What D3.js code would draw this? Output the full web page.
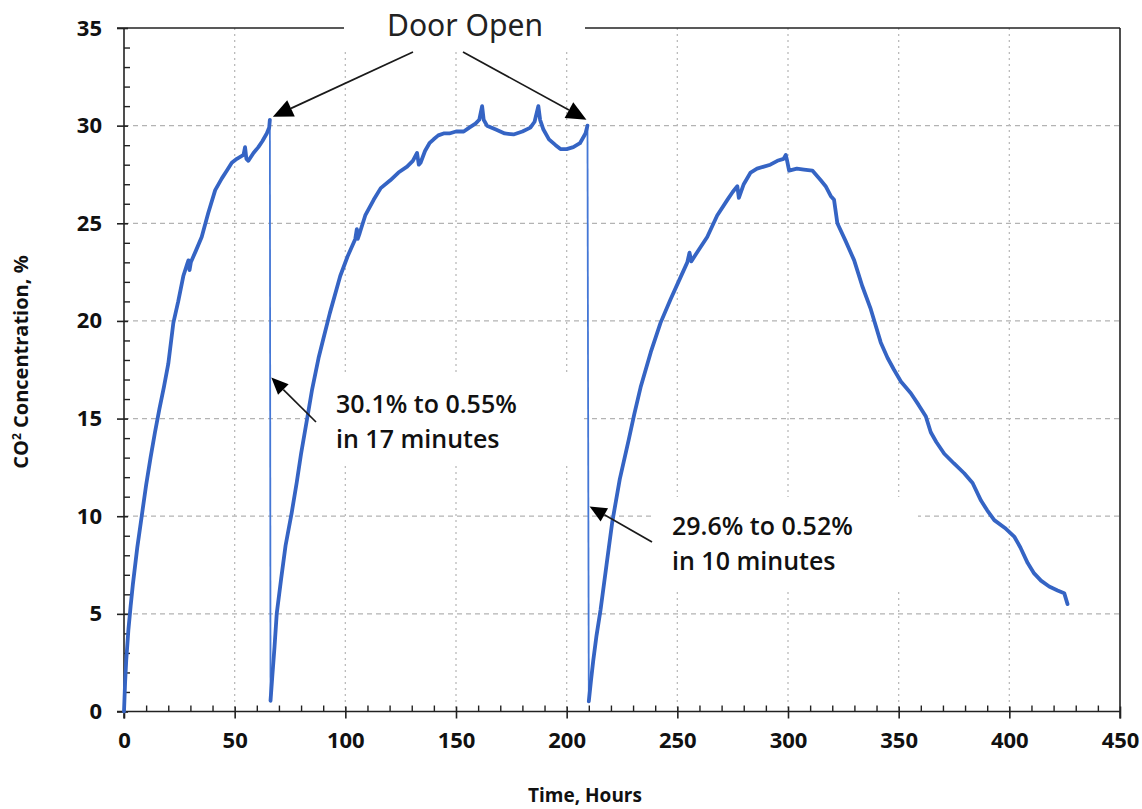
<!DOCTYPE html>
<html>
<head>
<meta charset="utf-8">
<script src="https://cdn.jsdelivr.net/npm/d3@7"></script>
<style>
  html, body { margin: 0; padding: 0; background: #fff; }
  svg { display: block; }
</style>
</head>
<body>
<svg id="chart" width="1142" height="809"></svg>
<script>
// ---------------- DATA ----------------
// Segment 1: first build-up (hours, CO2 %)
const hours1 = [0, 0.5, 1, 2, 3, 4, 6, 8, 10, 12, 14, 16, 18, 20, 22.3, 24.5, 26.8, 28.5, 29.1, 29.6, 30.2, 32.5, 35.1, 38, 41.2, 44.2, 46.5, 48.7, 51, 54, 54.7, 55.3, 56.2, 58.5, 60.7, 62.5, 64.5, 65.6, 65.9];
const co2_1  = [0, 1.5, 2.6, 4.2, 5.4, 6.5, 8.4, 10.0, 11.6, 13.0, 14.3, 15.5, 16.6, 17.8, 19.9, 21.0, 22.3, 22.9, 23.1, 22.6, 23.0, 23.6, 24.3, 25.5, 26.7, 27.3, 27.7, 28.1, 28.3, 28.5, 28.9, 28.3, 28.2, 28.6, 28.9, 29.2, 29.6, 29.9, 30.3];
// Segment 2: after first door opening
const hours2 = [66.2, 67, 68, 69, 71, 73, 75.8, 78, 80, 82.6, 85, 87.9, 90.1, 93, 97.7, 101, 104.5, 105.2, 105.6, 106.5, 109, 112.8, 116, 120.3, 124, 127.9, 130.5, 132.4, 133.2, 134, 136, 138, 139.9, 142, 144.4, 147, 150, 153.5, 156, 158.8, 160.5, 161.8, 162.5, 164, 168, 172, 176, 180, 183.6, 185.5, 187.2, 188, 189.5, 192, 195, 197.2, 200, 203, 206, 208.5, 209.4];
const co2_2  = [0.55, 1.8, 3.3, 5.0, 6.8, 8.5, 10.2, 11.7, 13.2, 14.9, 16.5, 18.1, 19.1, 20.4, 22.3, 23.3, 24.2, 24.7, 24.2, 24.5, 25.4, 26.2, 26.8, 27.2, 27.6, 27.9, 28.2, 28.6, 28.0, 28.1, 28.7, 29.1, 29.3, 29.5, 29.6, 29.6, 29.7, 29.7, 29.9, 30.1, 30.3, 31.0, 30.3, 30.0, 29.8, 29.6, 29.55, 29.7, 29.9, 30.2, 31.0, 30.3, 29.8, 29.3, 29.0, 28.8, 28.8, 28.9, 29.1, 29.6, 30.0];
// Segment 3: after second door opening
const hours3 = [210.0, 211, 212, 213.5, 215.3, 218, 220.6, 224, 228, 230.5, 233.4, 238, 242.4, 246.9, 250.5, 254.5, 255.5, 256.3, 260, 263.5, 268, 272.6, 275, 277.1, 277.8, 280, 283.1, 286, 289.1, 292, 295.2, 298, 299, 299.6, 300.5, 304, 307.2, 311, 314.8, 317, 319.3, 320.8, 322.3, 326, 329.9, 333.5, 337.4, 341.9, 345, 347.9, 351, 355.5, 359, 362.3, 364.5, 367, 370.6, 375, 379.6, 383.4, 387.2, 390, 393.2, 398, 402.2, 405, 408.3, 411, 414.3, 418, 421.8, 424.8, 426.3];
const co2_3  = [0.52, 1.6, 2.6, 3.9, 5.2, 7.5, 9.7, 11.9, 13.9, 15.2, 16.6, 18.4, 19.9, 21.1, 22.0, 23.0, 23.5, 23.05, 23.7, 24.3, 25.4, 26.2, 26.6, 26.9, 26.3, 27.0, 27.6, 27.8, 27.9, 28.0, 28.2, 28.3, 28.5, 28.2, 27.7, 27.8, 27.75, 27.7, 27.2, 26.9, 26.4, 26.2, 25.0, 24.1, 23.1, 21.8, 20.6, 18.9, 18.1, 17.5, 16.9, 16.3, 15.7, 15.1, 14.3, 13.8, 13.2, 12.7, 12.2, 11.7, 10.8, 10.3, 9.8, 9.4, 8.96, 8.4, 7.6, 7.1, 6.7, 6.4, 6.2, 6.06, 5.5];

const xTicks = [0, 50, 100, 150, 200, 250, 300, 350, 400, 450];
const yTicks = [0, 5, 10, 15, 20, 25, 30, 35];
const xMinorTicks = d3.range(0, 451, 10).filter(v => v % 50 !== 0);
const yMinorTicks = d3.range(0, 36, 1).filter(v => v % 5 !== 0);

const xTitle = "Time, Hours";
const doorLabel = "Door Open";
// door opening events: [hour, CO2 at peak]
const doorHours = [65.9, 209.4];
const doorPeaks = [30.3, 30.0];
// drop annotations: text lines and the point the arrow targets [hour, CO2]
const dropText1 = ["30.1% to 0.55%", "in 17 minutes"];
const dropText2 = ["29.6% to 0.52%", "in 10 minutes"];
const dropTarget = [[66.1, 17.1], [209.9, 10.5]];

// ---------------- LAYOUT ----------------
const svg = d3.select("#chart");
const L = 124, R = 1120, T = 28, B = 711.5;
const x = d3.scaleLinear().domain([0, 450]).range([L, R]);
const y = d3.scaleLinear().domain([0, 35]).range([B, T]);

const FONT = "'Open Sans', 'Noto Sans', sans-serif";

function fitWidth(sel, target) {
  const fs = parseFloat(sel.attr("font-size"));
  const w = sel.node().getComputedTextLength();
  if (w > 0) sel.attr("font-size", (fs * target / w).toFixed(2));
}

// grid
const grid = svg.append("g");
grid.selectAll("line.h").data(yTicks.filter(v => v > 0 && v < 35)).join("line")
  .attr("x1", L).attr("x2", R).attr("y1", d => y(d)).attr("y2", d => y(d))
  .attr("stroke", "#b3b3b3").attr("stroke-width", 1.3).attr("stroke-dasharray", "5,4");
grid.selectAll("line.v").data(xTicks.filter(v => v > 0 && v < 450)).join("line")
  .attr("x1", d => x(d)).attr("x2", d => x(d)).attr("y1", T).attr("y2", B)
  .attr("stroke", "#bbbbbb").attr("stroke-width", 1.3).attr("stroke-dasharray", "2,4");

// frame
const frame = svg.append("g").attr("stroke", "#222").attr("stroke-width", 1.6);
frame.append("line").attr("x1", L - 7).attr("x2", R).attr("y1", T).attr("y2", T);
frame.append("line").attr("x1", R).attr("x2", R).attr("y1", T).attr("y2", B + 7);
frame.append("line").attr("x1", L - 7).attr("x2", R).attr("y1", B).attr("y2", B);
frame.append("line").attr("x1", L).attr("x2", L).attr("y1", T).attr("y2", B + 7);

// axes (major + minor)
const xAxis = svg.append("g").attr("transform", `translate(0,${B})`)
  .call(d3.axisBottom(x).tickValues(xTicks).tickSize(7).tickPadding(14).tickFormat(d3.format("d")));
xAxis.select(".domain").remove();
xAxis.selectAll(".tick line").attr("y1", -5).attr("stroke", "#222").attr("stroke-width", 1.6);
xAxis.selectAll(".tick text").attr("font-family", FONT).attr("font-weight", 700)
  .attr("font-size", 22).attr("fill", "#111");

const xMinor = svg.append("g").attr("transform", `translate(0,${B})`)
  .call(d3.axisBottom(x).tickValues(xMinorTicks).tickSize(-6).tickFormat(""));
xMinor.select(".domain").remove();
xMinor.selectAll(".tick line").attr("stroke", "#222").attr("stroke-width", 1.4);

const yAxis = svg.append("g").attr("transform", `translate(${L},0)`)
  .call(d3.axisLeft(y).tickValues(yTicks).tickSize(7).tickPadding(15).tickFormat(d3.format("d")));
yAxis.select(".domain").remove();
yAxis.selectAll(".tick line").attr("x1", 4).attr("stroke", "#222").attr("stroke-width", 1.6);
yAxis.selectAll(".tick text").attr("font-family", FONT).attr("font-weight", 700)
  .attr("font-size", 22).attr("fill", "#111");

const yMinor = svg.append("g").attr("transform", `translate(${L},0)`)
  .call(d3.axisLeft(y).tickValues(yMinorTicks).tickSize(-6).tickFormat(""));
yMinor.select(".domain").remove();
yMinor.selectAll(".tick line").attr("stroke", "#222").attr("stroke-width", 1.4);

// axis titles
svg.append("text").attr("x", 585).attr("y", 802)
  .attr("text-anchor", "middle").attr("font-family", FONT).attr("font-weight", 700)
  .attr("font-size", 19).attr("fill", "#111").text(xTitle);

const yt = svg.append("text").attr("transform", "translate(28,362) rotate(-90)")
  .attr("text-anchor", "middle").attr("font-family", FONT).attr("font-weight", 700)
  .attr("font-size", 20).attr("fill", "#111");
yt.append("tspan").text("CO");
yt.append("tspan").attr("font-size", 12).attr("dy", -7).text("2");
yt.append("tspan").attr("dy", 7).text(" Concentration, %");

// white label boxes (hide gridlines/frame behind annotations)
const boxes = [[344, 0, 241, 49], [307, 372, 277, 91], [654, 497, 264, 94]];
svg.append("g").selectAll("rect").data(boxes).join("rect")
  .attr("x", d => d[0]).attr("y", d => d[1]).attr("width", d => d[2]).attr("height", d => d[3])
  .attr("fill", "#fff");

// ---------------- DATA LINES ----------------
const segs = [
  hours1.map((h, i) => [h, co2_1[i]]),
  hours2.map((h, i) => [h, co2_2[i]]),
  hours3.map((h, i) => [h, co2_3[i]])
];
const line = d3.line().x(d => x(d[0])).y(d => y(d[1]));
const BLUE = "#3564c4";

// thin vertical drops when the door opened
const drops = [[segs[0][segs[0].length - 1], segs[1][0]], [segs[1][segs[1].length - 1], segs[2][0]]];
svg.append("g").selectAll("path").data(drops).join("path")
  .attr("d", line).attr("fill", "none").attr("stroke", "#4477d6").attr("stroke-width", 1.8);

svg.append("g").selectAll("path").data(segs).join("path")
  .attr("d", line).attr("fill", "none").attr("stroke", BLUE)
  .attr("stroke-width", 3.8).attr("stroke-linejoin", "round").attr("stroke-linecap", "round");

// ---------------- ANNOTATIONS ----------------
function arrow(g, x1, y1, x2, y2, len, wid) {
  const a = Math.atan2(y2 - y1, x2 - x1);
  const bx = x2 - len * Math.cos(a), by = y2 - len * Math.sin(a);
  g.append("line").attr("x1", x1).attr("y1", y1).attr("x2", bx).attr("y2", by)
    .attr("stroke", "#1a1a1a").attr("stroke-width", 1.7);
  const px = -Math.sin(a) * wid / 2, py = Math.cos(a) * wid / 2;
  g.append("path").attr("d", `M${x2},${y2}L${bx + px},${by + py}L${bx - px},${by - py}Z`)
    .attr("fill", "#000");
}
const ann = svg.append("g");

// Door Open label + arrows
const door = ann.append("text").attr("x", 465).attr("y", 36).attr("text-anchor", "middle")
  .attr("font-family", "'Noto Sans', sans-serif").attr("font-size", 27).attr("fill", "#222")
  .text(doorLabel);
fitWidth(door, 156);
arrow(ann, 413, 52, x(doorHours[0]) + 3, y(doorPeaks[0]) - 3, 20, 18);
arrow(ann, 463, 52, x(doorHours[1]) - 1, y(doorPeaks[1]) - 6, 20, 18);

// drop annotations (each line its own text element)
function block(lines, x0, y0) {
  const fs = 25;
  lines.forEach((s, i) => {
    ann.append("text").attr("x", x0).attr("y", y0 + i * 34.5)
      .attr("font-family", FONT).attr("font-weight", 600).attr("font-size", fs)
      .attr("fill", "#111").text(s);
  });
}
block(dropText1, 336, 413);
block(dropText2, 672, 535);
arrow(ann, 316, 422, x(dropTarget[0][0]) + 1, y(dropTarget[0][1]), 17, 15);
arrow(ann, 652, 542, x(dropTarget[1][0]) + 1, y(dropTarget[1][1]), 17, 15);
</script>
</body>
</html>
